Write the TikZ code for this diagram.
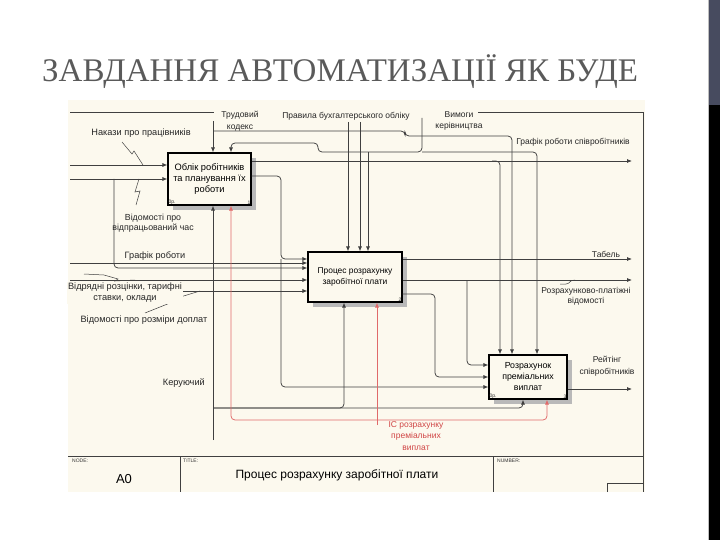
\documentclass[tikz,border=0pt]{standalone}
\usepackage{fontspec}
\setmainfont{Liberation Serif}
\newfontfamily\diagfont{Liberation Sans}
\usetikzlibrary{arrows.meta,shadows,calc}
\definecolor{bgcream}{HTML}{FCF9EE}
\definecolor{slatebar}{HTML}{474B5F}
\definecolor{titlegray}{HTML}{5A5A5A}
\definecolor{linegray}{HTML}{404040}
\definecolor{redline}{HTML}{E06A6A}
\definecolor{redtext}{HTML}{D04545}
\tikzset{
  idefbox/.style={draw=black, line width=1.1pt, fill=bgcream, align=center,
    inner sep=1pt,
    drop shadow={shadow xshift=5pt, shadow yshift=-5pt, fill=gray!55, opacity=1}},
  conn/.style={draw=linegray, line width=0.75pt, rounded corners=4pt},
  arr/.style={conn, -{Latex[length=5pt,width=4pt]}},
  redarr/.style={arr, draw=redline},
  lbl/.style={font=\diagfont\fontsize{8.5}{11.5}\selectfont, text=black!85, align=center, inner sep=1pt},
  biglbl/.style={lbl, font=\diagfont\fontsize{9.2}{11}\selectfont},
  redlbl/.style={lbl, text=redtext},
  tinylbl/.style={font=\diagfont\fontsize{5}{5}\selectfont, text=black!80, inner sep=1pt},
  squig/.style={draw=linegray, line width=0.5pt},
  frameline/.style={draw=linegray, line width=0.7pt},
}
\begin{document}
\begin{tikzpicture}[x=1pt,y=-1pt]
\useasboundingbox (0,0) rectangle (720,540);
% side bar
\fill[slatebar] (709,0) rectangle (720,105);
\fill[black] (709,105) rectangle (720,540);
\draw[gray!50, line width=0.5pt] (708,0) -- (708,540);
% title
\node[anchor=base west, font=\fontsize{33}{36}\selectfont, text=titlegray, inner sep=0pt] (title) at (42,82) {ЗАВДАННЯ АВТОМАТИЗАЦІЇ ЯК БУДЕ};
% diagram background
\fill[bgcream] (68,100) rectangle (645,492);
% frame
\draw[frameline] (70,112) -- (214,112);
\draw[frameline] (478,112) -- (643,112) -- (643,492);
% title block
\draw[frameline] (68,456) -- (643,456);
\draw[frameline] (180,456) -- (180,492);
\draw[frameline] (493,456) -- (493,492);
\draw[frameline] (607,492) -- (607,483) -- (643,483);
\node[tinylbl, anchor=north west] (nodel) at (71,458) {NODE:};
\node[tinylbl, anchor=north west] (titlel) at (182,458) {TITLE:};
\node[tinylbl, anchor=north west] (numl) at (496,458) {NUMBER:};
\node[font=\diagfont\fontsize{13}{14}\selectfont] (a0) at (124,479) {A0};
\node[font=\diagfont\fontsize{12}{14}\selectfont] (ttl) at (337,475) {Процес розрахунку заробітної плати};

% boxes
\node[idefbox, minimum width=83pt, minimum height=52pt, font=\diagfont\fontsize{9.3}{11}\selectfont] (b1) at (209.5,179) {Облік робітників\\та планування їх\\роботи};
\node[idefbox, minimum width=94pt, minimum height=50pt, font=\diagfont\fontsize{8.4}{11}\selectfont] (b2) at (355,277) {Процес розрахунку\\заробітної плати};
\node[idefbox, minimum width=78pt, minimum height=44pt, font=\diagfont\fontsize{8.8}{11}\selectfont] (b3) at (528,377) {Розрахунок\\преміальних\\виплат};
\node[tinylbl, anchor=south west] (b1op) at (b1.south west) {0р.};
\node[tinylbl, anchor=south east] (b1n) at (b1.south east) {1};
\node[tinylbl, anchor=south east] (b2n) at (b2.south east) {2};
\node[tinylbl, anchor=south west] (b3op) at (b3.south west) {0р.};
\node[tinylbl, anchor=south east] (b3n) at (b3.south east) {3};

% ---- coordinates
\coordinate (tk) at (213,121);
\coordinate (tk1) at (213,131);
\coordinate (tk2) at (405,131);
\coordinate (tk3) at (405,136);
\coordinate (tk4) at (512,136);
\coordinate (pr1) at (348,122);
\coordinate (pr2) at (360,122);
\coordinate (vm) at (422,118);
\coordinate (vm2) at (422,152);
\coordinate (vm3) at (318,152);
\coordinate (vm4) at (318,143);
\coordinate (vm5) at (231,143);
\coordinate (vm6) at (537,152);
\coordinate (vm7) at (368,152);
\coordinate (inA) at (70,165);
\coordinate (inB) at (70,179);
\coordinate (jB) at (114,179);
\coordinate (jB2) at (114,268);
\coordinate (gr) at (70,263);
\coordinate (vr) at (70,280);
\coordinate (vd) at (70,291);
\coordinate (gs) at (632,161);
\coordinate (gs1) at (492,161);
\coordinate (gs2) at (500,161);
\coordinate (r1) at (281,176);
\coordinate (r1d) at (281,259);
\coordinate (r1e) at (281,387);
\coordinate (tb) at (632,259);
\coordinate (rp) at (632,280);
\coordinate (rp2) at (467,280);
\coordinate (rp3) at (467,365);
\coordinate (o3a) at (435,294);
\coordinate (o3b) at (435,377);
\coordinate (rt) at (632,389);
\coordinate (ke) at (213,440);
\coordinate (kh) at (213,408);
\coordinate (kb2) at (344,408);
\coordinate (kb3) at (523,408);
\coordinate (rs) at (377,425);
\coordinate (rh) at (377,420);
\coordinate (rx1) at (231,420);
\coordinate (rx3) at (547,420);

% ---- controls
\draw[arr] (tk) -- (tk |- b1.north);
\draw[arr] (tk1) -- (tk2) -- (tk3) -- (tk4) -- (tk4 |- b3.north);
\draw[arr] (pr1) -- (pr1 |- b2.north);
\draw[arr] (pr2) -- (pr2 |- b2.north);
\draw[arr] (vm) -- (vm2) -- (vm3) -- (vm4) -- (vm5) -- (vm5 |- b1.north);
\draw[arr] (vm2) -- (vm6) -- (vm6 |- b3.north);
\draw[arr] (vm7) -- (vm7 |- b2.north);

% ---- inputs
\draw[arr] (inA) -- (inA -| b1.west);
\draw[arr] (inB) -- (inB -| b1.west);
\draw[arr] (jB) -- (jB2) -- (jB2 -| b2.west);
\draw[arr] (gr) -- (gr -| b2.west);
\draw[arr] (vr) -- (vr -| b2.west);
\draw[arr] (vd) -- (vd -| b2.west);

% ---- outputs
\draw[arr] (gs -| b1.east) -- (gs);
\draw[arr] (gs1) -| (gs2 |- b3.north);
\draw[arr] (r1 -| b1.east) -- (r1) -- (r1d) -- (r1d -| b2.west);
\draw[arr] (r1d) -- (r1e) -- (r1e -| b3.west);
\draw[arr] (tb -| b2.east) -- (tb);
\draw[arr] (rp -| b2.east) -- (rp);
\draw[arr] (rp2) -- (rp3) -- (rp3 -| b3.west);
\draw[arr] (o3a -| b2.east) -- (o3a) -- (o3b) -- (o3b -| b3.west);
\draw[arr] (rt -| b3.east) -- (rt);

% ---- mechanisms
\draw[arr] (ke) -- (ke |- b1.south);
\draw[arr] (kh) -| (kb2 |- b2.south);
\draw[arr] (kh) -- (kb3) -- (kb3 |- b3.south);
\draw[redarr] (rs) -- (rs |- b2.south);
\draw[redarr] (rh) -| (rx1 |- b1.south);
\draw[redarr] (rh) -| (rx3 |- b3.south);

% ---- squiggles
\draw[squig] (122,142) -- (132,154) -- (134,151) -- (143,165);
\draw[squig] (139,179) -- (135,192) -- (140,191) -- (136,205);
\draw[squig] (84,274) -- (104,275) -- (118,279) -- (115,281) -- (135,280);
\draw[squig] (145,313) -- (170,303) -- (164,302) -- (200,291);
\draw[squig] (560,284) -- (566,284) .. controls (570,284) and (569,280) .. (575,280);

% ---- labels
\node[lbl] (ltk) at (240,121) {Трудовий\\кодекс};
\node[lbl] (lpr) at (346,116) {Правила бухгалтерського обліку};
\node[lbl] (lvm) at (459,121) {Вимоги\\керівництва};
\node[biglbl] (lna) at (141,133) {Накази про працівників};
\node[biglbl, font=\diagfont\fontsize{8.8}{10}\selectfont] (lvv) at (153,223) {Відомості про\\відпрацьований час};
\node[biglbl] (lgr) at (155,256) {Графік роботи};
\node[biglbl, fill=bgcream] (lvr) at (125,293) {Відрядні розцінки, тарифні\\ставки, оклади};
\node[biglbl] (lvd) at (144,320) {Відомості про розміри доплат};
\node[biglbl, anchor=east] (lke) at (206,383) {Керуючий};
\node[lbl] (lgs) at (573,142) {Графік роботи співробітників};
\node[lbl] (ltb) at (606,254) {Табель};
\node[lbl, font=\diagfont\fontsize{8.5}{10}\selectfont] (lrp) at (586,296) {Розрахунково-платіжні\\відомості};
\node[lbl, fill=bgcream] (lrt) at (607,366) {Рейтінг\\співробітників};
\node[redlbl] (lic) at (416,436) {ІС розрахунку\\преміальних\\виплат};
\end{tikzpicture}
\end{document}
